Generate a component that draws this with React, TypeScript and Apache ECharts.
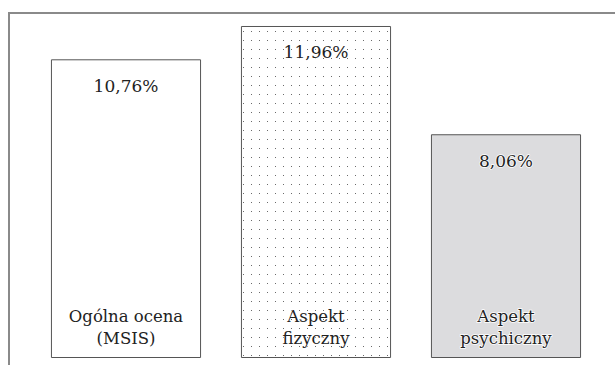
import React, { useEffect, useRef } from "react";
import * as echarts from "echarts";

const categories = ["Ogólna ocena\n(MSIS)", "Aspekt\nfizyczny", "Aspekt\npsychiczny"];
const values = [10.76, 11.96, 8.06];
const fills = ["#ffffff", "pattern", "#dcdcde"];

function makeDots(): HTMLCanvasElement {
  const c = document.createElement("canvas");
  c.width = 8;
  c.height = 9;
  const ctx = c.getContext("2d")!;
  ctx.fillStyle = "#ffffff";
  ctx.fillRect(0, 0, 8, 9);
  ctx.fillStyle = "#6a6a6a";
  ctx.fillRect(3, 4, 1, 1);
  return c;
}

export default function App() {
  const ref = useRef<HTMLDivElement>(null);
  useEffect(() => {
    document.body.style.margin = "0";
    const chart = echarts.init(ref.current!, null, { renderer: "svg" });
    const dots = makeDots();
    const font = "DejaVu Serif, serif";
    chart.setOption({
      animation: false,
      backgroundColor: "#ffffff",
      textStyle: { fontFamily: font },
      grid: { left: 31, right: 14, top: 11, bottom: 7, containLabel: false },
      xAxis: {
        type: "category",
        data: categories,
        z: 10,
        axisLine: { show: false },
        axisTick: { show: false },
        axisLabel: {
          inside: true,
          margin: 9,
          fontFamily: font,
          fontSize: 16.5,
          lineHeight: 22,
          color: "#222",
          textBorderColor: "#ffffff",
          textBorderWidth: 1.5,
        },
      },
      yAxis: {
        type: "value",
        min: 0,
        max: 12.5,
        show: false,
        splitLine: { show: false },
      },
      series: [
        {
          type: "bar",
          barCategoryGap: "21%",
          data: values.map((v, i) => ({
            value: v,
            itemStyle: {
              color:
                fills[i] === "pattern"
                  ? { image: dots, repeat: "repeat", imageWidth: 8, imageHeight: 9 }
                  : fills[i],
              borderColor: "#555555",
              borderWidth: 1,
            },
          })),
          label: {
            show: true,
            position: "insideTop",
            distance: 18,
            fontFamily: font,
            fontSize: 17,
            color: "#222",
            textBorderColor: "#ffffff",
            textBorderWidth: 1.5,
            formatter: (p: any) => p.value.toFixed(2).replace(".", ",") + "%",
          },
        },
      ],
      graphic: [
        {
          type: "line",
          shape: { x1: 9, y1: 13, x2: 615, y2: 13 },
          style: { stroke: "#8a8a8a", lineWidth: 2 },
          z: 20,
        },
        {
          type: "line",
          shape: { x1: 9, y1: 12, x2: 9, y2: 365 },
          style: { stroke: "#8a8a8a", lineWidth: 2 },
          z: 20,
        },
      ],
    });
    return () => chart.dispose();
  }, []);
  return <div ref={ref} style={{ width: 615, height: 365 }} />;
}
